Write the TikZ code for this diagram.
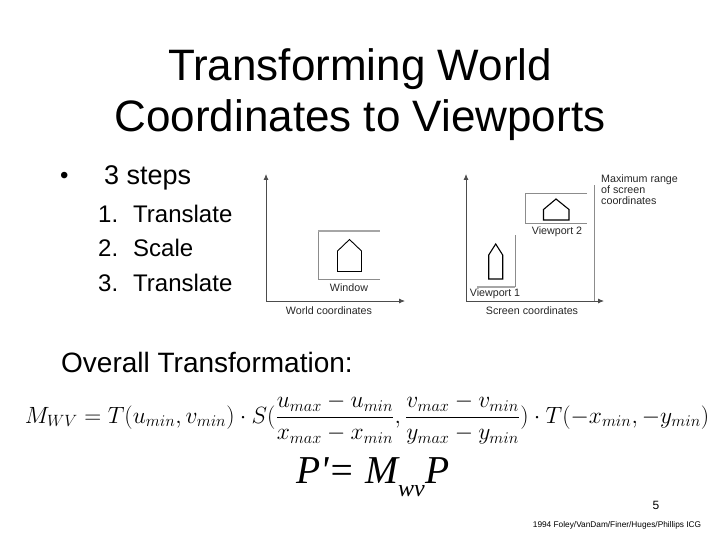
\documentclass[tikz,border=0pt]{standalone}
\usepackage{amsmath}
\usepackage{fontspec}
\setmainfont{Liberation Sans}
\newfontfamily\timesfont{Liberation Serif}
\usetikzlibrary{arrows.meta}
\tikzset{
  axisline/.style={draw=black!70,line width=0.8pt,-{Latex[length=6pt,width=5pt]}},
  frameline/.style={draw=black!45,line width=1pt},
  frametop/.style={draw=black!35,line width=1.6pt},
  houseline/.style={draw=black,line width=0.9pt},
  smalllabel/.style={font=\fontsize{10.7}{11}\selectfont,text=black!85,inner sep=0pt},
  slidetext/.style={font=\fontsize{24}{28}\selectfont,anchor=west,inner sep=0pt}
}
\begin{document}
\begin{tikzpicture}[x=1pt,y=-1pt]
    \useasboundingbox (0,0) rectangle (720,540);
    % Title
    \node[font=\fontsize{44}{51}\selectfont,align=center] (title) at (360,95) {Transforming World\\Coordinates to Viewports};

    % Bullet and list
    \node[slidetext] (bullet) at (60,178) {•};
    \node[slidetext,font=\fontsize{27}{30}\selectfont] (steps) at (104,178) {3 steps};
    \node[slidetext] (num1) at (98,214) {1.};
    \node[slidetext] (num2) at (98,248) {2.};
    \node[slidetext] (num3) at (98,283) {3.};
    \node[slidetext] (item1) at (133,214) {Translate};
    \node[slidetext] (item2) at (133,248) {Scale};
    \node[slidetext] (item3) at (133,283) {Translate};
    \node[slidetext,font=\fontsize{28}{30}\selectfont] (overall) at (61,362) {Overall Transformation:};

    % World coordinates
    \coordinate (wo) at (266,301);
    \coordinate (wy) at (266,174);
    \coordinate (wx) at (405,301);
    \draw[axisline] (wo) -- (wy);
    \draw[axisline] (wo) -- (wx);
    \draw[frameline] (380,279) -- (318.5,279) -- (318.5,231);
    \draw[frametop] (318,231) -- (380,231);
    \draw[houseline] (337.5,271.5) -- (337.5,251) -- (349.5,239.5) -- (361.5,251) -- (361.5,271.5) -- cycle;
    \node[smalllabel] (window) at (349,287.5) {Window};
    \node[smalllabel] (world) at (329,311) {World coordinates};

    % Screen coordinates
    \coordinate (so) at (466,301);
    \coordinate (sy) at (466,174);
    \coordinate (sx) at (604,301);
    \coordinate (sb) at (594,301);
    \coordinate (st) at (594,185);
    \draw[axisline] (so) -- (sy);
    \draw[axisline] (so) -- (sx);
    \draw[frameline] (sb) -- (st);
    \draw[frameline] (587,194) -- (525.5,194) -- (525.5,224) -- (587,224);
    \draw[houseline,line width=1.1pt] (543.5,220) -- (543.5,209.5) -- (556,199) -- (569,209.5) -- (569,220) -- cycle;
    \node[smalllabel] (vp2) at (557,232) {Viewport 2};
    \draw[frameline] (515,235) -- (515,287);
    \draw[frametop] (477,287) -- (515,287);
    \draw[houseline,line width=1.1pt] (488.7,279) -- (488.7,255) -- (495.7,244) -- (502.7,255) -- (502.7,279) -- cycle;
    \node[smalllabel] (vp1) at (495,294) {Viewport 1};
    \node[smalllabel] (screen) at (532,311) {Screen coordinates};
    \node[smalllabel,align=left,anchor=north west] (maxrange) at (601,174.5) {Maximum range\\of screen\\coordinates};

    % Formulas
    \node[inner sep=0pt,font=\fontsize{19.5}{24}\selectfont] (mwv) at (367,419) {\scalebox{1.133}{$M_{WV}=T(u_{min},v_{min})\cdot S(\dfrac{u_{max}-u_{min}}{x_{max}-x_{min}},\dfrac{v_{max}-v_{min}}{y_{max}-y_{min}})\cdot T(-x_{min},-y_{min})$}};
    \node[inner sep=0pt,font=\fontsize{39.5}{42}\selectfont\timesfont\itshape] (pmwv) at (373,477) {P'= M\raisebox{-13pt}{\fontsize{24}{24}\selectfont wv\kern1pt}P};
    \node[inner sep=0pt,font=\fontsize{12}{14}\selectfont] (page) at (656,505) {5};
    \node[inner sep=0pt,font=\fontsize{8.3}{9}\selectfont] (credit) at (617,525) {1994 Foley/VanDam/Finer/Huges/Phillips ICG};
\end{tikzpicture}
\end{document}
